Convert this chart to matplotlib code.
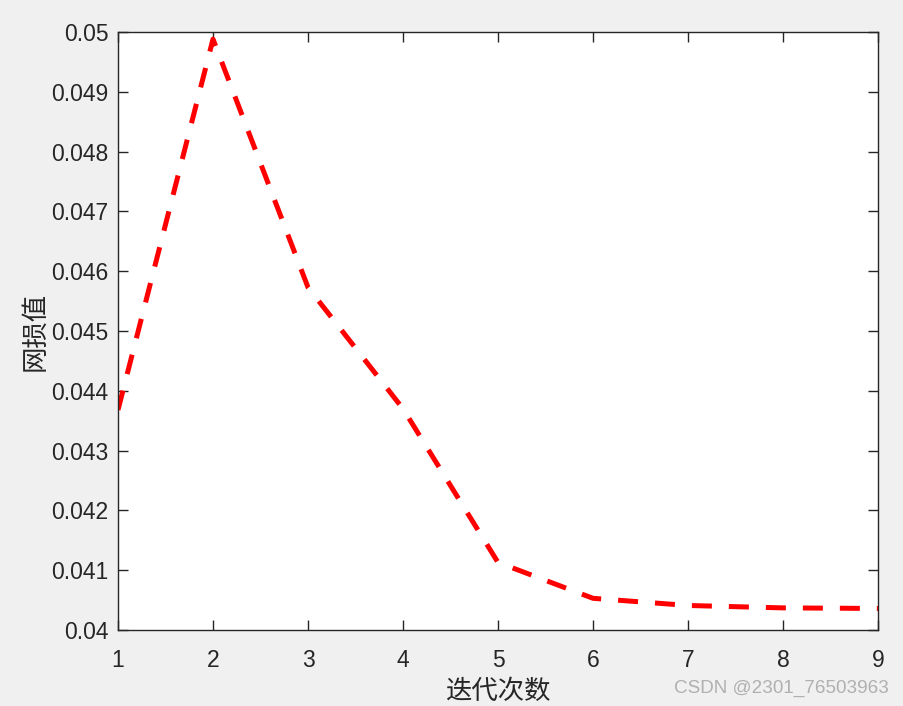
import matplotlib
matplotlib.use("Agg")
import matplotlib.pyplot as plt

iterations = [1, 2, 3, 4, 5, 6, 7, 8, 9]
loss = [0.04368, 0.04988, 0.04573, 0.04370, 0.04113, 0.04053, 0.04041, 0.04037, 0.04036]
xticks = [1, 2, 3, 4, 5, 6, 7, 8, 9]
yticks = [0.040, 0.041, 0.042, 0.043, 0.044, 0.045, 0.046, 0.047, 0.048, 0.049, 0.050]
ytick_labels = ["0.04", "0.041", "0.042", "0.043", "0.044", "0.045", "0.046", "0.047", "0.048", "0.049", "0.05"]

plt.rcParams['font.family'] = ['Liberation Sans', 'Noto Sans CJK SC', 'DejaVu Sans']

fig = plt.figure(figsize=(9.04, 7.06), dpi=100, facecolor='#f0f0f0')
ax = fig.add_axes([118/904, 76/706, 760/904, 598/706])
ax.set_facecolor('white')

ax.plot(iterations, loss, color='#ff0000', linewidth=3.6, linestyle=(0, (4.0, 3.4)))

ax.set_xlim(1, 9)
ax.set_ylim(0.04, 0.05)
ax.set_xticks(xticks)
ax.set_xticklabels([str(v) for v in xticks])
ax.set_yticks(yticks)
ax.set_yticklabels(ytick_labels)

for s in ax.spines.values():
    s.set_color('#262626')
    s.set_linewidth(1.0)
ax.tick_params(axis='both', which='both', direction='in', top=True, right=True,
               length=7, width=1.0, color='#262626', labelcolor='#262626', labelsize=16.5)
ax.tick_params(axis='x', pad=14)
ax.tick_params(axis='y', pad=7)

ax.set_xlabel('迭代次数', family=['Noto Sans CJK SC'], fontsize=19, color='#262626', labelpad=4)
ax.set_ylabel('网损值', family=['Noto Sans CJK SC'], fontsize=19, color='#262626', labelpad=2)

fig.text(889/904, 688/706, '', ha='right')
fig.text(889/904, 1 - 688/706, 'CSDN @2301_76503963', ha='right', va='center', fontsize=13.6,
         color='#b0b0b0', family=['Liberation Sans'])

fig.savefig('out.png', dpi=100, facecolor=fig.get_facecolor())
